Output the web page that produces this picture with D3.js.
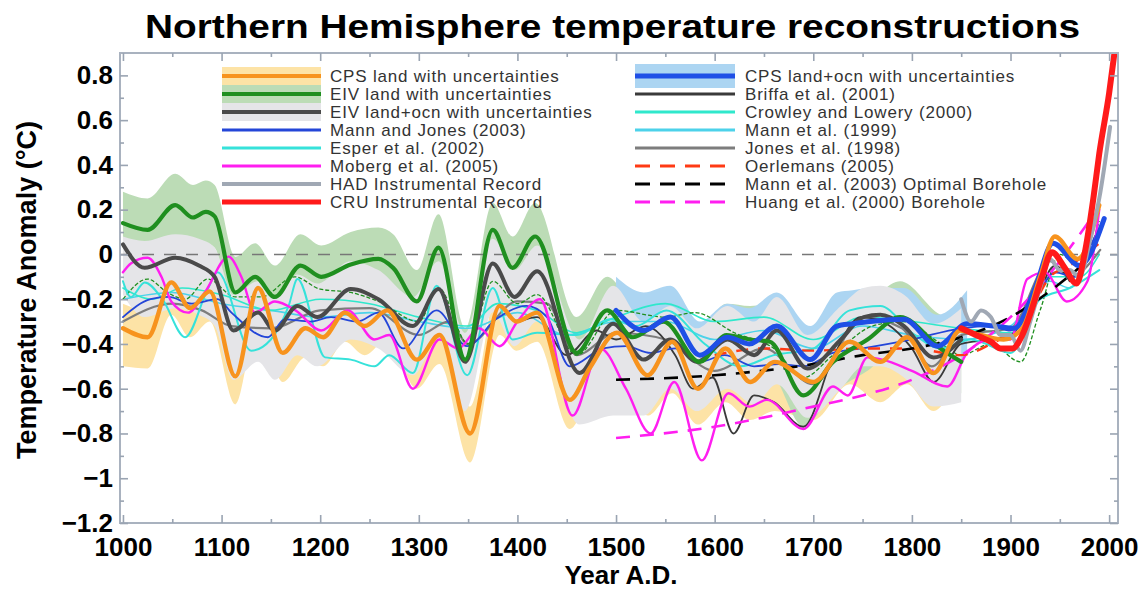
<!DOCTYPE html>
<html><head><meta charset="utf-8">
<script src="https://cdn.jsdelivr.net/npm/d3@7"></script>
<style>body{margin:0;background:#fff} svg{display:block;font-family:"Liberation Sans",Arial,Helvetica,sans-serif}</style>
</head><body><svg id="c" width="1146" height="590"></svg>
<script>
// ---------------- DATA ----------------
const titleText = "Northern Hemisphere temperature reconstructions";
const xLabel = "Year A.D.";
const yLabel = "Temperature Anomaly (°C)";
const xMajor = [1000,1100,1200,1300,1400,1500,1600,1700,1800,1900,2000];
const xMinor = [1050,1150,1250,1350,1450,1550,1650,1750,1850,1950];
const yMajor = [-1.2,-1,-0.8,-0.6,-0.4,-0.2,0,0.2,0.4,0.6,0.8];
const yMinor = [-1.1,-0.9,-0.7,-0.5,-0.3,-0.1,0.1,0.3,0.5,0.7];

const legendLeft = ["CPS land with uncertainties","EIV land with uncertainties","EIV land+ocn with uncertainties","Mann and Jones (2003)","Esper et al. (2002)","Moberg et al. (2005)","HAD Instrumental Record","CRU Instrumental Record"];
const legendRight = ["CPS land+ocn with uncertainties","Briffa et al. (2001)","Crowley and Lowery (2000)","Mann et al. (1999)","Jones et al. (1998)","Oerlemans (2005)","Mann et al. (2003) Optimal Borehole","Huang et al. (2000) Borehole"];

// [year, value]
const cpsLand = [[1000,-0.33],[1025,-0.37],[1049,-0.125],[1068,-0.24],[1088,-0.165],[1114,-0.545],[1137,-0.15],[1162,-0.44],[1185,-0.33],[1203,-0.37],[1225,-0.26],[1245,-0.32],[1268,-0.25],[1298,-0.47],[1321,-0.36],[1352,-0.80],[1382,-0.23],[1399,-0.30],[1420,-0.26],[1453,-0.65],[1473,-0.51],[1501,-0.35],[1532,-0.54],[1557,-0.39],[1583,-0.60],[1611,-0.42],[1636,-0.57],[1661,-0.48],[1700,-0.57],[1737,-0.39],[1768,-0.48],[1795,-0.37],[1822,-0.53],[1849,-0.34],[1870,-0.36],[1893,-0.38],[1912,-0.33],[1930,-0.10],[1945,0.08],[1968,-0.02],[1990,0.22]];
// [year, low, high]
const cpsLandBand = [[1000,-0.50,-0.22],[1025,-0.51,-0.25],[1049,-0.27,-0.02],[1068,-0.37,-0.13],[1088,-0.30,-0.06],[1114,-0.67,-0.43],[1137,-0.29,-0.05],[1162,-0.57,-0.33],[1185,-0.46,-0.22],[1203,-0.50,-0.26],[1225,-0.39,-0.15],[1245,-0.45,-0.21],[1268,-0.38,-0.14],[1298,-0.60,-0.36],[1321,-0.49,-0.25],[1352,-0.93,-0.68],[1382,-0.36,-0.12],[1399,-0.43,-0.19],[1420,-0.39,-0.15],[1453,-0.78,-0.54],[1473,-0.64,-0.40],[1501,-0.55,-0.24],[1532,-0.72,-0.43],[1557,-0.62,-0.28],[1583,-0.76,-0.49],[1611,-0.66,-0.31],[1636,-0.74,-0.46],[1661,-0.70,-0.37],[1700,-0.74,-0.46],[1737,-0.58,-0.28],[1768,-0.66,-0.37],[1795,-0.58,-0.26],[1822,-0.70,-0.42],[1849,-0.50,-0.23]];

const eivLand = [[1000,0.14],[1025,0.11],[1053,0.22],[1071,0.165],[1084,0.19],[1093,0.17],[1114,-0.17],[1134,-0.10],[1154,-0.19],[1180,-0.05],[1201,-0.10],[1231,-0.045],[1259,-0.02],[1274,-0.06],[1298,-0.21],[1320,0.03],[1347,-0.47],[1375,0.11],[1395,-0.06],[1418,0.08],[1460,-0.44],[1491,-0.25],[1517,-0.37],[1548,-0.30],[1585,-0.48],[1612,-0.36],[1636,-0.38],[1656,-0.39],[1690,-0.63],[1720,-0.48],[1755,-0.38],[1788,-0.28],[1829,-0.42],[1850,-0.48]];
const eivLandBand = [[1000,0.00,0.28],[1025,-0.03,0.25],[1053,0.08,0.36],[1071,0.03,0.31],[1084,0.05,0.33],[1093,0.03,0.31],[1114,-0.31,-0.01],[1134,-0.24,0.05],[1154,-0.33,-0.05],[1180,-0.19,0.09],[1201,-0.24,0.04],[1231,-0.19,0.10],[1259,-0.16,0.12],[1274,-0.20,0.09],[1298,-0.35,-0.07],[1320,-0.11,0.18],[1347,-0.61,-0.33],[1375,-0.03,0.23],[1395,-0.20,0.08],[1418,-0.06,0.23],[1460,-0.58,-0.28],[1491,-0.39,-0.10],[1517,-0.51,-0.20],[1548,-0.44,-0.16],[1585,-0.62,-0.33],[1612,-0.50,-0.22],[1636,-0.52,-0.23],[1656,-0.53,-0.22],[1690,-0.77,-0.45],[1720,-0.62,-0.32],[1755,-0.52,-0.22],[1788,-0.42,-0.12],[1829,-0.56,-0.27],[1850,-0.62,-0.30]];

const eivLandOcn = [[1000,0.045],[1022,-0.06],[1053,-0.015],[1077,-0.05],[1093,-0.10],[1112,-0.34],[1137,-0.26],[1154,-0.34],[1177,-0.23],[1197,-0.28],[1231,-0.155],[1259,-0.20],[1294,-0.32],[1320,-0.155],[1347,-0.48],[1375,-0.04],[1397,-0.19],[1420,-0.075],[1463,-0.53],[1497,-0.31],[1528,-0.47],[1555,-0.38],[1582,-0.48],[1613,-0.38],[1640,-0.45],[1663,-0.34],[1694,-0.51],[1728,-0.38],[1751,-0.28],[1768,-0.27],[1792,-0.32],[1822,-0.46],[1850,-0.38]];
const eivLandOcnBand = [[1000,-0.18,0.08],[1022,-0.28,0.06],[1053,-0.24,0.09],[1077,-0.27,0.07],[1093,-0.32,0.03],[1112,-0.56,-0.18],[1137,-0.48,-0.12],[1154,-0.56,-0.19],[1177,-0.45,-0.09],[1197,-0.50,-0.13],[1231,-0.38,-0.03],[1259,-0.42,-0.07],[1294,-0.54,-0.19],[1320,-0.38,-0.03],[1347,-0.70,-0.35],[1375,-0.26,0.07],[1397,-0.41,-0.07],[1420,-0.30,0.04],[1463,-0.76,-0.38],[1497,-0.72,-0.14],[1528,-0.72,-0.30],[1555,-0.60,-0.23],[1582,-0.70,-0.33],[1613,-0.60,-0.23],[1640,-0.67,-0.30],[1663,-0.58,-0.19],[1694,-0.73,-0.36],[1728,-0.60,-0.23],[1751,-0.50,-0.15],[1768,-0.50,-0.14],[1792,-0.55,-0.18],[1822,-0.68,-0.31],[1850,-0.66,-0.24]];

const cpsLandOcn = [[1500,-0.25],[1528,-0.34],[1555,-0.28],[1585,-0.45],[1613,-0.37],[1635,-0.40],[1663,-0.32],[1697,-0.47],[1724,-0.32],[1740,-0.31],[1758,-0.30],[1792,-0.29],[1826,-0.41],[1856,-0.31],[1883,-0.32],[1904,-0.33],[1925,-0.15],[1943,0.05],[1970,-0.05],[1995,0.16]];
const cpsLandOcnBand = [[1500,-0.38,-0.10],[1528,-0.47,-0.17],[1555,-0.41,-0.14],[1585,-0.58,-0.30],[1613,-0.50,-0.22],[1635,-0.53,-0.24],[1663,-0.45,-0.17],[1697,-0.60,-0.32],[1724,-0.45,-0.17],[1740,-0.44,-0.16],[1758,-0.43,-0.15],[1792,-0.42,-0.15],[1826,-0.54,-0.27],[1856,-0.44,-0.16]];

const mannJones2003 = [[1000,-0.28],[1028,-0.20],[1046,-0.19],[1070,-0.22],[1096,-0.20],[1110,-0.26],[1147,-0.37],[1164,-0.29],[1190,-0.30],[1211,-0.28],[1238,-0.30],[1259,-0.26],[1284,-0.42],[1318,-0.25],[1349,-0.41],[1378,-0.29],[1409,-0.23],[1430,-0.28],[1453,-0.50],[1487,-0.42],[1510,-0.41],[1535,-0.44],[1560,-0.42],[1585,-0.48],[1610,-0.45],[1640,-0.50],[1665,-0.49],[1690,-0.50],[1720,-0.44],[1750,-0.42],[1800,-0.38],[1850,-0.33],[1880,-0.32],[1900,-0.34],[1925,-0.20],[1945,-0.08],[1965,-0.10],[1980,0.03],[1995,0.16]];
const esper2002 = [[1000,-0.12],[1008,-0.19],[1022,-0.125],[1040,-0.20],[1063,-0.37],[1086,-0.155],[1096,-0.08],[1130,-0.43],[1150,-0.38],[1168,-0.23],[1177,-0.11],[1205,-0.46],[1231,-0.47],[1255,-0.50],[1270,-0.45],[1294,-0.53],[1318,-0.14],[1349,-0.54],[1375,-0.15],[1395,-0.38],[1420,-0.35],[1460,-0.36],[1494,-0.29],[1520,-0.32],[1551,-0.25],[1590,-0.40],[1626,-0.50],[1660,-0.45],[1700,-0.42],[1737,-0.25],[1768,-0.23],[1800,-0.35],[1830,-0.42],[1860,-0.38],[1900,-0.44],[1930,-0.20],[1960,-0.15],[1990,-0.07]];
const moberg2005 = [[1000,-0.08],[1008,-0.04],[1025,-0.015],[1039,-0.10],[1049,-0.21],[1066,-0.26],[1083,-0.17],[1107,-0.01],[1120,-0.10],[1134,-0.26],[1154,-0.21],[1175,-0.25],[1201,-0.34],[1228,-0.25],[1255,-0.38],[1270,-0.36],[1294,-0.60],[1321,-0.38],[1340,-0.42],[1361,-0.33],[1382,-0.41],[1400,-0.30],[1423,-0.20],[1456,-0.72],[1484,-0.42],[1510,-0.60],[1535,-0.80],[1559,-0.57],[1587,-0.92],[1614,-0.62],[1635,-0.68],[1653,-0.65],[1690,-0.78],[1720,-0.59],[1735,-0.63],[1755,-0.46],[1770,-0.47],[1800,-0.52],[1836,-0.59],[1856,-0.44],[1880,-0.38],[1900,-0.38],[1917,-0.11],[1935,-0.08],[1957,-0.21],[1978,-0.12],[1990,0.20]];
const hadRecord = [[1850,-0.20],[1860,-0.30],[1870,-0.25],[1880,-0.28],[1890,-0.36],[1900,-0.36],[1910,-0.43],[1920,-0.30],[1930,-0.15],[1940,-0.02],[1950,-0.07],[1960,-0.07],[1970,-0.10],[1980,0.05],[1990,0.25],[2001,0.57]];
const cruRecord = [[1850,-0.33],[1860,-0.35],[1870,-0.37],[1880,-0.39],[1890,-0.42],[1902,-0.42],[1912,-0.36],[1922,-0.24],[1932,-0.10],[1942,0.01],[1955,-0.06],[1967,-0.13],[1975,0.00],[1984,0.25],[1990,0.45],[2000,0.72],[2006,0.92]];
const briffa2001 = [[1402,-0.30],[1420,-0.28],[1450,-0.45],[1480,-0.34],[1500,-0.38],[1530,-0.32],[1560,-0.45],[1578,-0.60],[1598,-0.55],[1619,-0.80],[1640,-0.63],[1660,-0.66],[1690,-0.77],[1720,-0.46],[1748,-0.28],[1770,-0.30],[1800,-0.42],[1822,-0.57],[1850,-0.40],[1880,-0.38],[1900,-0.36],[1930,-0.15],[1945,-0.05],[1960,-0.12]];
const crowley2000 = [[1000,-0.15],[1030,-0.20],[1060,-0.15],[1100,-0.18],[1150,-0.25],[1200,-0.20],[1250,-0.22],[1300,-0.28],[1350,-0.32],[1380,-0.22],[1420,-0.25],[1460,-0.35],[1500,-0.28],[1550,-0.22],[1600,-0.30],[1650,-0.28],[1700,-0.38],[1750,-0.28],[1800,-0.30],[1850,-0.33],[1900,-0.35],[1940,-0.10],[1970,-0.10],[1990,0.00]];
const mann1999 = [[1000,-0.20],[1050,-0.17],[1100,-0.22],[1150,-0.25],[1200,-0.28],[1250,-0.26],[1300,-0.30],[1350,-0.33],[1400,-0.26],[1450,-0.36],[1500,-0.30],[1550,-0.30],[1600,-0.38],[1650,-0.34],[1700,-0.42],[1750,-0.32],[1800,-0.36],[1850,-0.38],[1900,-0.32],[1940,-0.12],[1960,-0.15],[1980,0.02]];
const jones1998 = [[1000,-0.30],[1050,-0.22],[1080,-0.25],[1110,-0.32],[1150,-0.33],[1200,-0.25],[1250,-0.24],[1300,-0.36],[1330,-0.30],[1350,-0.40],[1400,-0.21],[1430,-0.22],[1460,-0.45],[1500,-0.35],[1550,-0.38],[1600,-0.52],[1650,-0.42],[1700,-0.58],[1750,-0.28],[1790,-0.33],[1820,-0.50],[1850,-0.36],[1900,-0.33],[1940,-0.03],[1960,-0.10],[1991,0.02]];
const eivLandThin = [[1000,-0.20],[1025,-0.11],[1045,-0.17],[1063,-0.20],[1086,-0.11],[1114,-0.19],[1140,-0.19],[1174,-0.10],[1200,-0.155],[1231,-0.17],[1259,-0.21],[1300,-0.30],[1320,-0.15],[1350,-0.40],[1375,-0.12],[1400,-0.22],[1420,-0.18],[1460,-0.45],[1500,-0.25],[1550,-0.28],[1580,-0.26],[1620,-0.35],[1660,-0.42],[1690,-0.55],[1720,-0.45],[1760,-0.32],[1790,-0.30],[1830,-0.40],[1850,-0.45],[1880,-0.40],[1910,-0.48],[1930,-0.25],[1950,0.00],[1970,-0.05],[1990,0.15]];
const oerlemans2005 = [[1600,-0.45],[1650,-0.42],[1700,-0.43],[1750,-0.42],[1800,-0.42],[1850,-0.45],[1880,-0.40],[1900,-0.35],[1920,-0.25],[1940,-0.10],[1960,-0.05],[1990,0.05]];
const mannBorehole2003 = [[1500,-0.56],[1600,-0.54],[1700,-0.49],[1750,-0.45],[1800,-0.42],[1850,-0.37],[1900,-0.28],[1950,-0.13],[1980,-0.02]];
const huangBorehole2000 = [[1500,-0.82],[1600,-0.77],[1700,-0.68],[1750,-0.63],[1800,-0.56],[1850,-0.45],[1900,-0.28],[1950,-0.03],[1980,0.15]];

// ---------------- CHART ----------------
const L=120, R=1118, T=53, B=523;
const x = d3.scaleLinear().domain([997,2009]).range([L,R]);
const y = d3.scaleLinear().domain([-1.2,0.9]).range([B,T]);
const svg = d3.select("#c");
svg.append("rect").attr("width",1146).attr("height",590).attr("fill","#fff");
svg.append("defs").append("clipPath").attr("id","clip").append("rect")
  .attr("x",L).attr("y",T).attr("width",R-L).attr("height",B-T);
const g = svg.append("g").attr("clip-path","url(#clip)");

const line = d3.line().x(d=>x(d[0])).y(d=>y(d[1])).curve(d3.curveMonotoneX);
const area = d3.area().x(d=>x(d[0])).y0(d=>y(d[1])).y1(d=>y(d[2])).curve(d3.curveMonotoneX);

const C = {
  orange:"#f7931e", orangeBand:"#fde3a6",
  green:"#1f8f1f", greenBand:"#bcdcb6",
  dgray:"#4a4a4a", grayBand:"#e5e5e8",
  blueThick:"#1f4fe6", blueBand:"#acd5f2",
  blue:"#2446d8", cyan:"#36e2da", cyan2:"#2fe8cc", cyan3:"#4cd2ea",
  magenta:"#ff1ef0", had:"#a0a8b4", cru:"#ff1a1a",
  briffa:"#3a3a3a", jones:"#7d7d7d", oerl:"#ff3a14", black:"#000"
};

// bands (back to front)
[[cpsLandBand,C.orangeBand],[eivLandBand,C.greenBand],[cpsLandOcnBand,C.blueBand],[eivLandOcnBand,C.grayBand]]
  .forEach(([d,c])=>g.append("path").datum(d).attr("d",area).attr("fill",c).attr("stroke","none"));

// zero line
g.append("line").attr("x1",L).attr("x2",R).attr("y1",y(0)).attr("y2",y(0))
  .attr("stroke","#777").attr("stroke-width",1.6).attr("stroke-dasharray","12,10");

function drawLine(d,color,w,dash){
  const p = g.append("path").datum(d).attr("d",line).attr("fill","none")
    .attr("stroke",color).attr("stroke-width",w).attr("stroke-linejoin","round").attr("stroke-linecap","round");
  if(dash) p.attr("stroke-dasharray",dash).attr("stroke-linecap","butt");
  return p;
}
drawLine(mann1999,C.cyan3,1.6);
drawLine(crowley2000,C.cyan2,1.6);
drawLine(jones1998,C.jones,2.2);
drawLine(eivLandThin,C.green,1.3,"4,2");
drawLine(briffa2001,C.briffa,1.8);
drawLine(esper2002,C.cyan,2);
drawLine(mannJones2003,C.blue,1.8);
drawLine(moberg2005,C.magenta,2.4);
drawLine(oerlemans2005,C.oerl,2.4,"12,10");
drawLine(mannBorehole2003,C.black,2.6,"14,10");
drawLine(huangBorehole2000,C.magenta,2.6,"14,10");
drawLine(eivLandOcn,C.dgray,4);
drawLine(eivLand,C.green,4.2);
drawLine(cpsLandOcn,C.blueThick,5);
drawLine(cpsLand,C.orange,4.4);
drawLine(hadRecord,C.had,4);
drawLine(cruRecord,C.cru,6);

// frame & ticks
const tickColor="#9aa4b2";
const ax = svg.append("g");
ax.append("rect").attr("x",L).attr("y",T).attr("width",R-L).attr("height",B-T)
  .attr("fill","none").attr("stroke","#a9b2bf").attr("stroke-width",2);

ax.append("g").attr("transform",`translate(0,${B})`)
  .call(d3.axisBottom(x).tickValues(xMajor).tickSizeInner(-8).tickSizeOuter(0).tickPadding(15).tickFormat(d3.format("d")));
ax.append("g").attr("transform",`translate(0,${T})`)
  .call(d3.axisTop(x).tickValues(xMajor).tickSizeInner(-8).tickSizeOuter(0).tickFormat(""));
ax.append("g").attr("transform",`translate(0,${B})`)
  .call(d3.axisBottom(x).tickValues(xMinor).tickSizeInner(-4).tickSizeOuter(0).tickFormat(""));
ax.append("g").attr("transform",`translate(0,${T})`)
  .call(d3.axisTop(x).tickValues(xMinor).tickSizeInner(-4).tickSizeOuter(0).tickFormat(""));
const fmt = v => { const r = Math.round(v*10)/10; return (r<0?"\u2212":"") + Math.abs(r); };
ax.append("g").attr("transform",`translate(${L},0)`)
  .call(d3.axisLeft(y).tickValues(yMajor).tickSizeInner(-8).tickSizeOuter(0).tickPadding(7).tickFormat(fmt));
ax.append("g").attr("transform",`translate(${R},0)`)
  .call(d3.axisRight(y).tickValues(yMajor).tickSizeInner(-8).tickSizeOuter(0).tickFormat(""));
ax.append("g").attr("transform",`translate(${L},0)`)
  .call(d3.axisLeft(y).tickValues(yMinor).tickSizeInner(-4).tickSizeOuter(0).tickFormat(""));
ax.append("g").attr("transform",`translate(${R},0)`)
  .call(d3.axisRight(y).tickValues(yMinor).tickSizeInner(-4).tickSizeOuter(0).tickFormat(""));
ax.selectAll(".domain").remove();
ax.selectAll(".tick line").attr("stroke",tickColor).attr("stroke-width",1.6);
ax.selectAll(".tick text").attr("fill","#000").attr("font-size","26px").attr("font-weight","bold")
  .attr("font-family",'"Liberation Sans",Arial,Helvetica,sans-serif');

// title & labels
svg.append("text").attr("x",145).attr("y",38).attr("font-size","34px").attr("font-weight","bold")
  .attr("textLength",935).attr("lengthAdjust","spacingAndGlyphs").attr("fill","#000").text(titleText);
svg.append("text").attr("x",(L+R)/2+2).attr("y",584).attr("text-anchor","middle")
  .attr("font-size","26px").attr("font-weight","bold").attr("fill","#000").text(xLabel);
svg.append("text").attr("transform","translate(36,290) rotate(-90)").attr("text-anchor","middle")
  .attr("font-size","27px").attr("font-weight","bold").attr("fill","#000").text(yLabel);

// legend
const lg = svg.append("g");
const rowY = i => 76 + i*18;
const leftStyles = [
  {band:C.orangeBand,c:C.orange,w:4},{band:C.greenBand,c:C.green,w:4},{band:C.grayBand,c:C.dgray,w:4},
  {c:C.blue,w:3},{c:C.cyan,w:3},{c:C.magenta,w:3},{c:C.had,w:4},{c:C.cru,w:5}];
const rightStyles = [
  {band:C.blueBand,bh:12,c:C.blueThick,w:5},{c:C.briffa,w:3},{c:C.cyan2,w:3},{c:C.cyan3,w:3},{c:C.jones,w:3},
  {c:C.oerl,w:3,dash:"15,10"},{c:C.black,w:3,dash:"15,10"},{c:C.magenta,w:3,dash:"15,10"}];
function legendCol(labels, styles, x0, x1, tx){
  labels.forEach((lab,i)=>{
    const s = styles[i], yy = rowY(i);
    if(s.band){ const h = s.bh||9; lg.append("rect").attr("x",x0).attr("y",yy-h).attr("width",x1-x0).attr("height",2*h).attr("fill",s.band); }
    const ln = lg.append("line").attr("x1",x0).attr("x2",x1).attr("y1",yy).attr("y2",yy)
      .attr("stroke",s.c).attr("stroke-width",s.w);
    if(s.dash) ln.attr("stroke-dasharray",s.dash);
    lg.append("text").attr("x",tx).attr("y",yy+6).attr("font-size","17px").attr("letter-spacing","0.8px")
      .attr("fill","#333").text(lab);
  });
}
legendCol(legendLeft, leftStyles, 222, 321, 330);
legendCol(legendRight, rightStyles, 635, 735, 745);
</script></body></html>
